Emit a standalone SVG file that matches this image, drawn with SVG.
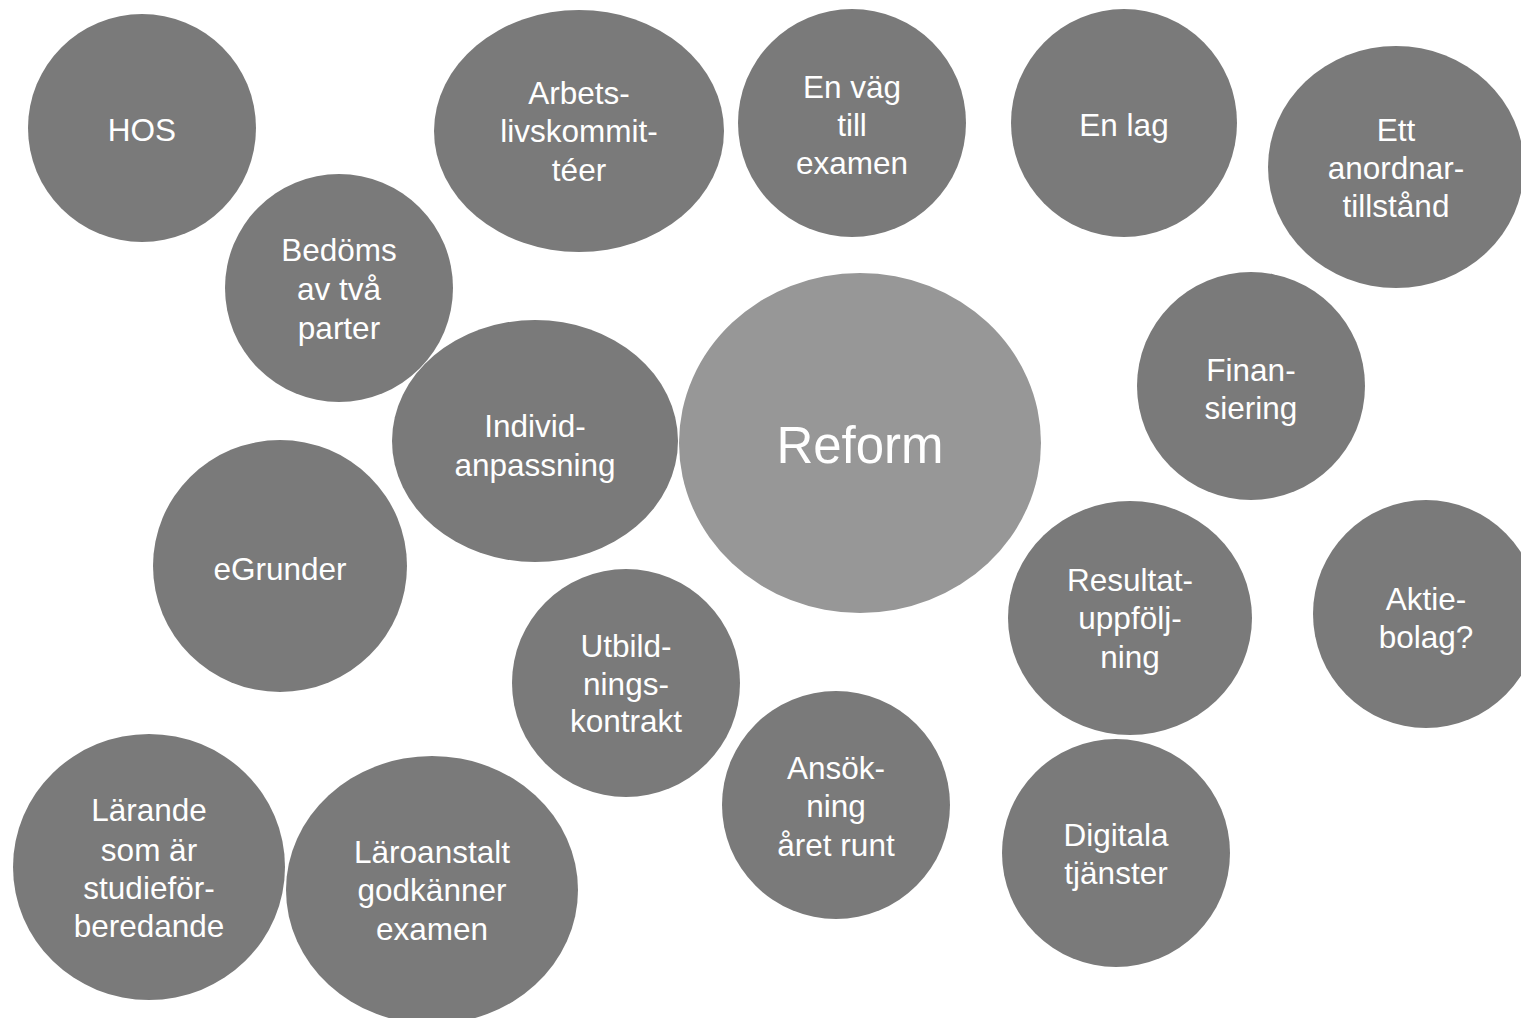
<svg xmlns="http://www.w3.org/2000/svg" width="1521" height="1018" viewBox="0 0 1521 1018">
<style>
.n{fill:#7a7a7a}
.c{fill:#979797}
text{font-family:"Liberation Sans",Arial,sans-serif;font-size:31.5px;fill:#ffffff;text-anchor:middle}
.big{font-size:51px}
</style>
<rect width="1521" height="1018" fill="#ffffff"/>
<g id="connectors"></g>
<g id="n-hos"><ellipse class="n" cx="142" cy="128" rx="114" ry="114"/><text x="142" y="141">HOS</text></g>
<g id="n-arbets"><ellipse class="n" cx="579" cy="131" rx="145" ry="121"/><text x="579" y="104">Arbets-</text><text x="579" y="142">livskommit-</text><text x="579" y="181">téer</text></g>
<g id="n-envag"><ellipse class="n" cx="852" cy="123" rx="114" ry="114"/><text x="852" y="98">En väg</text><text x="852" y="136">till</text><text x="852" y="174">examen</text></g>
<g id="n-enlag"><ellipse class="n" cx="1124" cy="123" rx="113" ry="114"/><text x="1124" y="136">En lag</text></g>
<g id="n-ett"><ellipse class="n" cx="1396" cy="167" rx="128" ry="121"/><text x="1396" y="141">Ett</text><text x="1396" y="179">anordnar-</text><text x="1396" y="217">tillstånd</text></g>
<g id="n-bedoms"><ellipse class="n" cx="339" cy="288" rx="114" ry="114"/><text x="339" y="261">Bedöms</text><text x="339" y="300">av två</text><text x="339" y="339">parter</text></g>
<g id="n-individ"><ellipse class="n" cx="535" cy="441" rx="143" ry="121"/><text x="535" y="437">Individ-</text><text x="535" y="476">anpassning</text></g>
<g id="n-reform"><ellipse class="c" cx="860" cy="443" rx="181" ry="170"/><text class="big" x="860" y="463">Reform</text></g>
<g id="n-finan"><ellipse class="n" cx="1251" cy="386" rx="114" ry="114"/><text x="1251" y="381">Finan-</text><text x="1251" y="419">siering</text></g>
<g id="n-egrunder"><ellipse class="n" cx="280" cy="566" rx="127" ry="126"/><text x="280" y="580">eGrunder</text></g>
<g id="n-utbild"><ellipse class="n" cx="626" cy="683" rx="114" ry="114"/><text x="626" y="657">Utbild-</text><text x="626" y="695">nings-</text><text x="626" y="732">kontrakt</text></g>
<g id="n-resultat"><ellipse class="n" cx="1130" cy="618" rx="122" ry="117"/><text x="1130" y="591">Resultat-</text><text x="1130" y="629">uppfölj-</text><text x="1130" y="668">ning</text></g>
<g id="n-aktie"><ellipse class="n" cx="1426" cy="614" rx="113" ry="114"/><text x="1426" y="610">Aktie-</text><text x="1426" y="648">bolag?</text></g>
<g id="n-ansok"><ellipse class="n" cx="836" cy="805" rx="114" ry="114"/><text x="836" y="779">Ansök-</text><text x="836" y="817">ning</text><text x="836" y="856">året runt</text></g>
<g id="n-digitala"><ellipse class="n" cx="1116" cy="853" rx="114" ry="114"/><text x="1116" y="846">Digitala</text><text x="1116" y="884">tjänster</text></g>
<g id="n-larande"><ellipse class="n" cx="149" cy="867" rx="136" ry="133"/><text x="149" y="821">Lärande</text><text x="149" y="861">som är</text><text x="149" y="899">studieför-</text><text x="149" y="937">beredande</text></g>
<g id="n-laroanstalt"><ellipse class="n" cx="432" cy="890" rx="146" ry="134"/><text x="432" y="863">Läroanstalt</text><text x="432" y="901">godkänner</text><text x="432" y="940">examen</text></g>
</svg>
